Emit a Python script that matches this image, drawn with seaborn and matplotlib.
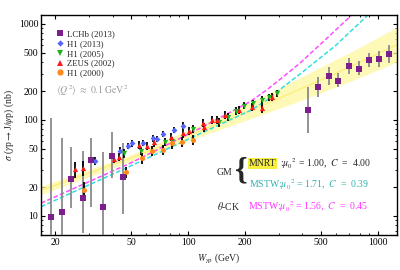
import matplotlib
matplotlib.use("Agg")
import matplotlib.pyplot as plt
import seaborn as sns
import numpy as np
import pandas as pd
from matplotlib.ticker import FixedLocator, FixedFormatter, LogLocator, NullFormatter
from matplotlib.lines import Line2D

# ---------------- data ----------------
lhcb_W = [19.0, 21.8, 24.2, 27.8, 30.8, 35.6, 39.7, 45.3, 430, 485, 552, 618, 703, 798, 897, 1016, 1146]
lhcb_sig = [9.8, 10.9, 24.5, 15.3, 38.3, 12.3, 42.5, 25.5, 126, 219, 289, 257, 365, 340, 422, 432, 483]
lhcb_hi = [105, 65, 52.7, 48, 64.4, 46.8, 75.5, 57.2, 219, 283, 359, 306, 439, 415, 502, 524, 604]
lhcb_lo = [3, 3, 12.1, 6.7, 12.5, 3, 24.7, 10.6, 73.7, 175, 232, 219, 301, 294, 354, 359, 390]

h1_13_W = [32.4, 43.9, 48.5, 50.6, 57.8, 65.7, 68.9, 74.1, 84.8, 93.8]
h1_13_sig = [37.7, 47.9, 53.6, 57.2, 58.0, 64.5, 63.4, 71.5, 79.0, 87.3]
h1_13_err = [3.5, 4.0, 4.3, 4.6, 4.6, 5.2, 5.0, 5.7, 6.3, 7.0]

h1_05_W = [45.7, 56.6, 76, 82.1, 106, 146, 163, 179, 196, 221, 244, 268, 295]
h1_05_sig = [45, 47.9, 59.4, 60.8, 80.6, 94.6, 108, 124, 141, 149, 162, 172, 190]
h1_05_err = [4.5, 4.8, 6, 6, 8, 9.5, 10, 11, 12, 13, 14, 15, 16]

zeus_W = [25.4, 27.9, 40.6, 43.2, 55.4, 60.6, 66.5, 81.4, 93.8, 101, 119.5, 121, 134, 142, 157, 186, 216, 244, 276]
zeus_sig = [30.6, 31.4, 39.3, 41.5, 55, 54, 58.6, 67, 72.7, 76.8, 93.8, 84, 100, 100, 112.7, 127, 137.5, 132, 175]
zeus_err = [5.5, 5.6, 4, 4.2, 5.5, 5.4, 5.9, 6.7, 7.3, 7.7, 9.4, 8.4, 10, 10, 11, 12.7, 13.8, 13.2, 17.5]

h1_00_W = [28.4, 47, 57.1, 64.4, 73.6, 82, 92.7, 106]
h1_00_sig = [18.7, 28.5, 39.9, 47.5, 48.9, 57.2, 59.4, 62]
h1_00_err = [3.8, 3.9, 5.0, 5.7, 5.9, 6.9, 7.1, 7.4]

# theory curves
mnrt_W = [16.8, 49.5, 115.6, 212, 388, 700, 1260]
mnrt_c = [18.5, 39.9, 77, 125, 209, 351, 610]
mnrt_lo = [16.7, 36.9, 67, 102.8, 158, 248, 402]
mnrt_hi = [20.5, 43.2, 88.5, 152, 276, 496, 925]

mstw_gm_W = [16.8, 49.5, 115.6, 212, 259, 318, 388, 594, 886]
mstw_gm_s = [12.5, 33, 72, 125, 160, 222, 300, 589, 1240]

ck_W = [16.8, 49.5, 115.6, 212, 259, 318, 388, 526, 728]
ck_s = [13.6, 35.4, 82, 155, 205, 283, 390, 680, 1240]

legend_labels = ["LCHb (2013)", "H1 (2013)", "H1 (2005)", "ZEUS (2002)", "H1 (2000)"]

# ---------------- styling ----------------
sns.set_theme(style="ticks")
plt.rcParams['font.family'] = ['Liberation Serif', 'DejaVu Serif']
plt.rcParams['mathtext.fontset'] = 'stix'
plt.rcParams['xtick.direction'] = 'in'
plt.rcParams['ytick.direction'] = 'in'

c_lhcb = '#7e1e8e'
c_h113 = '#5566ff'
c_h105 = '#1fb31f'
c_zeus = '#ff1a1a'
c_h100 = '#ff8a1c'
c_cyan = '#33dede'
c_mag = '#ff4dff'
c_yel = '#fff7a0'

fig = plt.figure(figsize=(4, 2.7), dpi=100)
ax = fig.add_axes([41/400, 1-235/270, 356/400, 220/270])
ax.set_xscale('log')
ax.set_yscale('log')

# band
ax.fill_between(mnrt_W, mnrt_lo, mnrt_hi, color=c_yel, alpha=0.75, lw=0, zorder=1)
sns.lineplot(x=mnrt_W, y=mnrt_c, ax=ax, color='#fbef80', lw=1.0, sort=False, estimator=None, zorder=2)
sns.lineplot(x=mstw_gm_W, y=mstw_gm_s, ax=ax, color=c_cyan, lw=1.1, sort=False,
             estimator=None, zorder=2).lines[-1].set_dashes([3, 1.5])
sns.lineplot(x=ck_W, y=ck_s, ax=ax, color=c_mag, lw=1.1, sort=False,
             estimator=None, zorder=2).lines[-1].set_dashes([3, 1.5])

# LHCb
yerr_l = [np.array(lhcb_sig) - np.array(lhcb_lo), np.array(lhcb_hi) - np.array(lhcb_sig)]
ax.errorbar(lhcb_W, lhcb_sig, yerr=yerr_l, fmt='none', ecolor='#8a8a8a', elinewidth=1.3, capsize=0, zorder=3)
sns.scatterplot(x=lhcb_W, y=lhcb_sig, ax=ax, color=c_lhcb, marker='s', s=14, linewidth=0, zorder=5)

series = [
    (h1_13_W, h1_13_sig, h1_13_err, c_h113, 'D', 9),
    (h1_05_W, h1_05_sig, h1_05_err, c_h105, 'v', 14),
    (zeus_W, zeus_sig, zeus_err, c_zeus, '^', 14),
    (h1_00_W, h1_00_sig, h1_00_err, c_h100, 'o', 13),
]
for W, s, e, col, m, sz in series:
    ax.errorbar(W, s, yerr=e, fmt='none', ecolor='black', elinewidth=1.3, capsize=0, zorder=3)
    sns.scatterplot(x=W, y=s, ax=ax, color=col, marker=m, s=sz, linewidth=0, zorder=4)

ax.set_xlim(16.8, 1260)
ax.set_ylim(6.34, 1240)

xt = [20, 50, 100, 200, 500, 1000]
yt = [10, 20, 50, 100, 200, 500, 1000]
ax.xaxis.set_major_locator(FixedLocator(xt))
ax.xaxis.set_major_formatter(FixedFormatter([str(v) for v in xt]))
ax.yaxis.set_major_locator(FixedLocator(yt))
ax.yaxis.set_major_formatter(FixedFormatter([str(v) for v in yt]))
ax.xaxis.set_minor_locator(LogLocator(base=10, subs=np.arange(2, 10)))
ax.yaxis.set_minor_locator(LogLocator(base=10, subs=np.arange(2, 10)))
ax.xaxis.set_minor_formatter(NullFormatter())
ax.yaxis.set_minor_formatter(NullFormatter())
ax.tick_params(which='both', top=True, right=True, labelsize=7, colors='black', pad=2)
ax.tick_params(which='major', length=3, width=0.8)
ax.tick_params(which='minor', length=1.6, width=0.6)
for sp in ax.spines.values():
    sp.set_linewidth(1.0)
    sp.set_color('black')
ax.grid(False)

ax.set_xlabel(r'$W_{\gamma\mathrm{p}}$ (GeV)', fontsize=7, labelpad=3)
ax.set_ylabel(r'$\sigma$ ($\gamma$p$\rightarrow$J/$\psi$p) (nb)', fontsize=7, labelpad=2)

# legend
handles = [
    Line2D([], [], ls='none', marker='s', color=c_lhcb, ms=4.5, mew=0),
    Line2D([], [], ls='none', marker='D', color=c_h113, ms=3.2, mew=0),
    Line2D([], [], ls='none', marker='v', color=c_h105, ms=4.5, mew=0),
    Line2D([], [], ls='none', marker='^', color=c_zeus, ms=4.5, mew=0),
    Line2D([], [], ls='none', marker='o', color=c_h100, ms=4.5, mew=0),
]
ax.legend(handles, legend_labels, loc='upper left', bbox_to_anchor=(0.025, 0.96), frameon=False,
          fontsize=6.3, handlelength=0.8, handletextpad=0.5, labelspacing=0.2, borderpad=0.2)

# text annotations (figure pixel coordinates)
def fx(px):
    return px / 400
def fy(py):
    return 1 - py / 270

fig.text(fx(56), fy(91), r'$\langle Q^2\rangle\ \approx\ 0.1\ \mathrm{GeV}^2$', color='#999999',
         fontsize=7, va='center', ha='left')
fig.text(fx(217), fy(172.5), 'GM', fontsize=7, va='center', ha='left')
fig.text(fx(235), fy(171), '{', fontsize=23, va='center', ha='left', fontweight='bold')
fig.text(fx(249), fy(163.5), 'MNRT', fontsize=7, va='center', ha='left',
         bbox=dict(boxstyle='square,pad=0.1', fc='#f8ee3c', ec='none'))
fig.text(fx(280), fy(163.5), r':$\mu_0{}^2$ = 1.00,  $C$  =  4.00', fontsize=7, va='center', ha='left')
fig.text(fx(249), fy(184.5), r'MSTW:$\mu_0{}^2$ = 1.71,  $C$  =  0.39', fontsize=7, va='center',
         ha='left', color='#30b0b0')
fig.text(fx(217), fy(206), r'$\theta$-CK', fontsize=7, va='center', ha='left')
fig.text(fx(248), fy(206.5), r'MSTW:$\mu_0{}^2$ = 1.56,  $C$  =  0.45', fontsize=7, va='center',
         ha='left', color='#ff33ff')

fig.savefig('out.png', dpi=100)
